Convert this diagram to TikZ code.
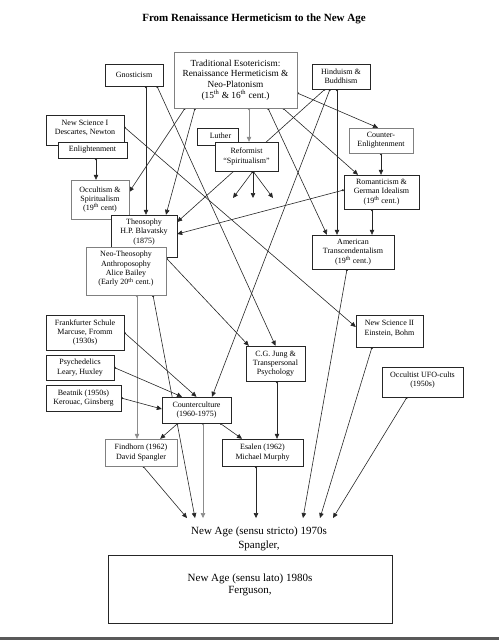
\documentclass[tikz,border=0pt]{standalone}
\usepackage{fontspec}
\setmainfont{Liberation Serif}
\usetikzlibrary{arrows.meta}
\pgfdeclarelayer{bg}
\pgfsetlayers{bg,main}

\begin{document}
\begin{tikzpicture}[x=1pt,y=-1pt,
        box/.style={draw=black!85, fill=white, align=center, inner sep=0pt, font=\fontsize{8}{9.3}\selectfont},
        gbox/.style={box, draw=black!50},
        boxtext/.style={align=center, inner sep=0pt, font=\fontsize{8}{9.3}\selectfont},
        link/.style={draw=black!85, line width=0.6pt, {Circle[length=2pt]}-{Triangle[length=5pt,width=4.5pt]}},
        glink/.style={link, draw=black!45}]
        \useasboundingbox (0,0) rectangle (499,640);
        \node[font=\fontsize{11}{13}\selectfont\bfseries] (title) at (254,19) {From Renaissance Hermeticism to the New Age};
        % top row
        \node[box, minimum width=58pt, minimum height=22pt] (gnos) at (134,75) {Gnosticism};
        \node[gbox, minimum width=123pt, minimum height=56pt, font=\fontsize{9.3}{10.8}\selectfont] (trad) at (235.5,80) {Traditional Esotericism:\\Renaissance Hermeticism \&\\Neo-Platonism\\(15\textsuperscript{th} \& 16\textsuperscript{th} cent.)};
        \node[box, minimum width=58pt, minimum height=25pt] (hindu) at (341,76.5) {Hinduism \&\\Buddhism};
        % second row
        \node[box, minimum width=78pt, minimum height=30pt, label={[boxtext, yshift=2pt]center:{New Science I\\Descartes, Newton}}] (nsci1) at (85,130) {};
        \node[box, minimum width=69pt, minimum height=16pt] (enl) at (92.5,150) {Enlightenment};
        \node[box, minimum width=41pt, minimum height=17pt, label={[boxtext, xshift=3pt, yshift=1pt]center:Luther}] (luther) at (217.5,136.5) {};
        \node[box, minimum width=63pt, minimum height=29pt] (reform) at (246.5,156.5) {Reformist\\``Spiritualism''};
        \node[gbox, minimum width=64pt, minimum height=25pt] (counter) at (381,140.5) {Counter-\\Enlightenment};
        % 19th century
        \node[gbox, minimum width=58pt, minimum height=39pt] (occult) at (100,199.5) {Occultism \&\\Spiritualism\\(19\textsuperscript{th} cent)};
        \node[box, minimum width=75pt, minimum height=34pt] (roman) at (381.5,192) {Romanticism \&\\German Idealism\\(19\textsuperscript{th} cent.)};
        \node[box, minimum width=66pt, minimum height=42pt, label={[boxtext, yshift=4pt]center:{Theosophy\\H.P. Blavatsky\\(1875)}}] (theo) at (144,236) {};
        \node[gbox, minimum width=80pt, minimum height=48pt, label={[boxtext, yshift=2pt]center:{Neo-Theosophy\\Anthroposophy\\Alice Bailey\\(Early 20\textsuperscript{th} cent.)}}] (neo) at (126,271) {};
        \node[box, minimum width=82pt, minimum height=34pt] (amtr) at (353,252) {American\\Transcendentalism\\(19\textsuperscript{th} cent.)};
        % 20th century
        \node[box, minimum width=78pt, minimum height=35pt] (frank) at (85,332.5) {Frankfurter Schule\\Marcuse, Fromm\\(1930s)};
        \node[box, minimum width=67pt, minimum height=32pt, label={[boxtext, yshift=2.5pt]center:{New Science II\\Einstein, Bohm}}] (ns2) at (389.5,331) {};
        \node[box, minimum width=68pt, minimum height=25pt] (psych) at (80,367.5) {Psychedelics\\Leary, Huxley};
        \node[box, minimum width=59pt, minimum height=35pt] (jung) at (275.5,363.5) {C.G. Jung \&\\Transpersonal\\Psychology};
        \node[box, minimum width=81pt, minimum height=30pt, label={[boxtext, yshift=2pt]center:{Occultist UFO-cults\\(1950s)}}] (ufo) at (422.5,382) {};
        \node[box, minimum width=75pt, minimum height=26pt] (beat) at (83.5,398) {Beatnik (1950s)\\Kerouac, Ginsberg};
        \node[box, minimum width=69pt, minimum height=26pt] (cc) at (196.5,410) {Counterculture\\(1960-1975)};
        \node[gbox, minimum width=72pt, minimum height=27pt] (find) at (141,452.5) {Findhorn (1962)\\David Spangler};
        \node[box, minimum width=81pt, minimum height=27pt] (esal) at (262.5,452.5) {Esalen (1962)\\Michael Murphy};
        % new age
        \node[align=center, inner sep=9pt, font=\fontsize{11}{13.5}\selectfont] (nas) at (259,539) {New Age (sensu stricto) 1970s\\Spangler,};
        \node[box, minimum width=284pt, minimum height=68pt, label={[boxtext, yshift=4pt, font=\fontsize{11}{12.5}\selectfont]center:{New Age (sensu lato) 1980s\\Ferguson,}}] (nal) at (250,589) {};
        \coordinate (r1) at (233,198);
        \coordinate (r2) at (253,198);
        \coordinate (r3) at (273,198);
        \fill[black!65] (0,637) rectangle (499,640);

        \begin{pgfonlayer}{bg}
        \draw[link] ([xshift=12pt]gnos.south) -- ([xshift=2pt]theo.north);
        \draw[link] ([xshift=23pt]gnos.south) -- (jung.north);
        \draw[link] ([yshift=3pt]nsci1.east) -- ([yshift=4pt]ns2.west);
        \draw[link] ([xshift=3.5pt]enl.south) -- ([xshift=-4pt]occult.north);
        \draw[link] ([xshift=-50.5pt]trad.south) -- ([yshift=7.5pt]occult.east);
        \draw[link] ([xshift=-40.5pt]trad.south) -- ([xshift=22pt]theo.north);
        \draw[glink] ([xshift=13.5pt]trad.south) -- ([xshift=2.5pt]reform.north);
        \draw[link] ([xshift=32.5pt]trad.south) -- ([xshift=-26pt]amtr.north);
        \draw[link] ([xshift=47.5pt]trad.south) -- ([xshift=-23.5pt]roman.north);
        \draw[link] ([yshift=-13pt]trad.east) -- ([xshift=-3pt]counter.north);
        \draw[link] ([xshift=-16pt]hindu.south) -- ([yshift=14pt]theo.east);
        \draw[link] ([xshift=-11pt]hindu.south) -- ([xshift=15.5pt]cc.north);
        \draw[link] ([xshift=-4pt]hindu.south) -- ([xshift=-16pt]amtr.north);
        \draw[link] (counter.south) -- (counter.south |- roman.north);
        \draw[link] ([xshift=-9.5pt]roman.south) -- ([xshift=19pt]amtr.north);
        \draw[link] ([yshift=2pt]roman.west) -- ([yshift=2pt]theo.east);
        \foreach \e in {r1,r2,r3}
            \draw[link] ([xshift=6.5pt]reform.south) -- (\e);
        \draw[link] ([yshift=13pt]neo.east) -- ([xshift=3pt]jung.north west);
        \draw[glink] ([xshift=11pt]neo.south) -- ([xshift=-4pt]find.north);
        \draw[link] ([xshift=27pt]neo.south) -- ([xshift=-64pt]nas.north);
        \draw[link] ([xshift=-18.5pt]cc.south) -- ([xshift=-17pt]find.north east);
        \draw[glink] ([xshift=6.5pt]cc.south) -- ([xshift=-56pt]nas.north);
        \draw[link] ([xshift=23.5pt]cc.south) -- ([xshift=-20.5pt]esal.north);
        \draw[link] ([xshift=2pt]find.south) -- ([xshift=-72pt]nas.north);
        \draw[link] ([xshift=-6.5pt]esal.south) -- ([xshift=-3pt]nas.north);
        \draw[link] ([xshift=1.5pt]jung.south) -- ([xshift=14.5pt]esal.north);
        \draw[link] ([xshift=-6pt]amtr.south) -- ([xshift=44pt]nas.north);
        \draw[link] ([xshift=-17.5pt]ns2.south) -- ([xshift=61pt]nas.north);
        \draw[link] ([xshift=-15.5pt]ufo.south) -- ([xshift=74pt]nas.north);
        \draw[link] (frank.east) -- (cc.north);
        \draw[link] (psych.east) -- ([xshift=-14.5pt]cc.north);
        \draw[link] (beat.east) -- ([yshift=1pt]cc.west);
        \end{pgfonlayer}
\end{tikzpicture}
\end{document}
